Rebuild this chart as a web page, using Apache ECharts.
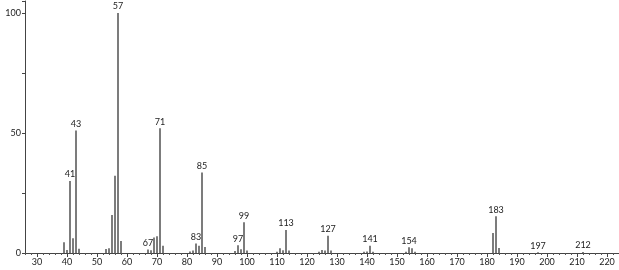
<!DOCTYPE html>
<html>
<head>
<meta charset="utf-8">
<script src="https://cdn.jsdelivr.net/npm/echarts@6/dist/echarts.min.js"></script>
<style>html,body{margin:0;padding:0;background:#fff}#c{width:619px;height:270px}</style>
</head>
<body>
<div id="c"></div>
<script>
var mz = [39,40,41,42,43,44,53,54,55,56,57,58,67,68,69,70,71,72,81,82,83,84,85,86,96,97,98,99,100,110,111,112,113,114,124,125,126,127,128,139,140,141,142,153,154,155,156,182,183,184,197,212];
var intensity = [4.5,1.2,30,6.1,51,1.8,1.7,2,15.8,32.2,100,5,1.5,1.1,6.5,7,52,3,0.6,1,4,3,33.5,2.5,0.8,3.2,1.6,12.8,1,0.5,2,1.1,9.6,1,0.5,1.2,1,7.2,1,0.5,0.6,3,0.5,0.5,2.4,2,0.5,8.3,15.3,2.1,0.3,0.4];
var labeledPeaks = [41,43,57,67,71,83,85,97,99,113,127,141,154,183,197,212];
var xMajorTicks = [30,40,50,60,70,80,90,100,110,120,130,140,150,160,170,180,190,200,210,220];
var yTickLabels = [0,50,100];

var font = 'Lato, "DejaVu Sans", sans-serif';
var data = mz.map(function (m, i) {
  var item = { value: [m, intensity[i]] };
  if (labeledPeaks.indexOf(m) >= 0) {
    item.label = { show: true, position: 'top', distance: 2, formatter: String(m),
      fontSize: 9, color: '#222', fontFamily: font };
  }
  return item;
});

var chart = echarts.init(document.getElementById('c'));
chart.setOption({
  animation: false,
  grid: { left: 25, right: 0, top: 1, bottom: 17 },
  xAxis: [
    { type: 'value', min: 26, max: 224, interval: 2,
      axisLine: { show: true, lineStyle: { color: '#444', width: 1 } },
      axisTick: { show: true, length: 2, inside: false, lineStyle: { color: '#555' } },
      axisLabel: { show: false }, splitLine: { show: false } },
    { type: 'value', min: 26, max: 224, position: 'bottom',
      axisLine: { show: false },
      axisTick: { show: true, length: 4, customValues: xMajorTicks, lineStyle: { color: '#444' } },
      axisLabel: { show: true, customValues: xMajorTicks, fontSize: 9, color: '#222', margin: 5, fontFamily: font },
      splitLine: { show: false } }
  ],
  yAxis: {
    type: 'value', min: 0, max: 105, interval: 25,
    axisLine: { show: true, lineStyle: { color: '#444', width: 1 } },
    axisTick: { show: true, length: 3, lineStyle: { color: '#444' } },
    axisLabel: { fontSize: 9, color: '#222', margin: 4, fontFamily: font,
      formatter: function (v) { return yTickLabels.indexOf(v) >= 0 ? String(v) : ''; } },
    splitLine: { show: false }
  },
  series: [{
    type: 'bar', xAxisIndex: 0, barWidth: 1.5, data: data,
    itemStyle: { color: '#505050' }, barGap: '-100%'
  }]
});
</script>
</body>
</html>
